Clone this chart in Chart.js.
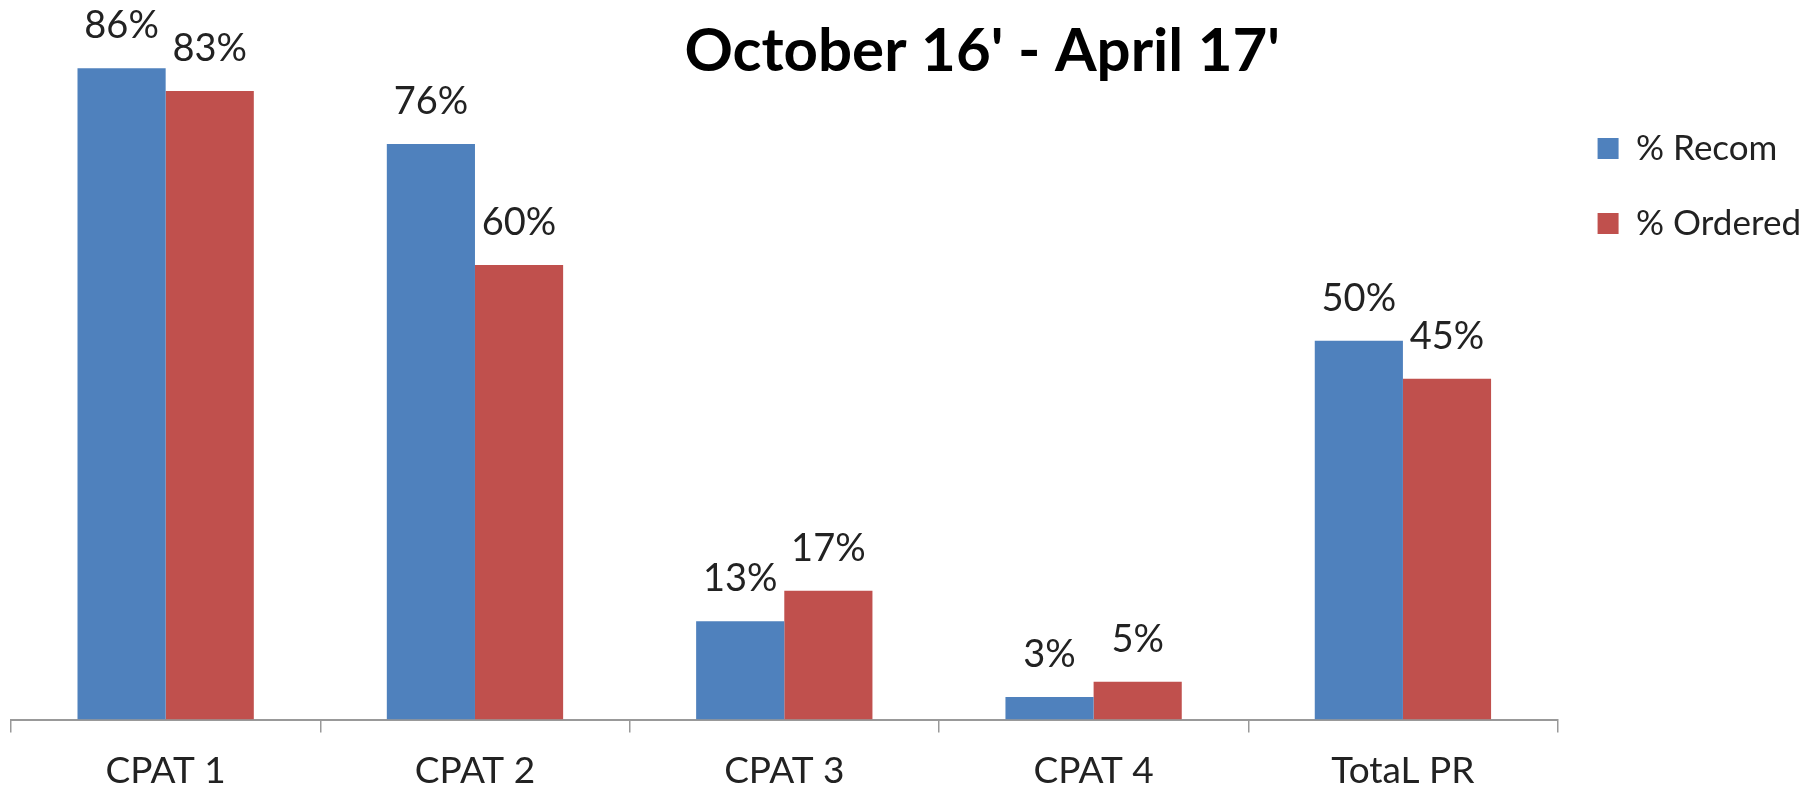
<!DOCTYPE html>
<html>
<head>
<meta charset="utf-8">
<script src="https://cdn.jsdelivr.net/npm/chart.js@4"></script>
<style>
  html, body { margin: 0; padding: 0; background: #fff; }
  #wrap { width: 1819px; height: 791px; }
</style>
</head>
<body>
<div id="wrap"><canvas id="canvas"></canvas></div>
<script>
var categories = ['CPAT 1', 'CPAT 2', 'CPAT 3', 'CPAT 4', 'TotaL PR']
var recom = [86, 76, 13, 3, 50]
var ordered = [83, 60, 17, 5, 45]
var seriesNames = ['% Recom', '% Ordered']
var titleText = "October 16' - April 17'"

var fontName = 'Lato, "Open Sans", sans-serif'

// value labels above each bar
var barLabels = {
  id: 'barLabels',
  afterDatasetsDraw: function(chart) {
    var ctx = chart.ctx
    ctx.save()
    ctx.font = '38px ' + fontName
    ctx.fillStyle = '#222'
    ctx.textAlign = 'center'
    ctx.textBaseline = 'alphabetic'
    chart.data.datasets.forEach(function(ds, i) {
      chart.getDatasetMeta(i).data.forEach(function(bar, j) {
        ctx.fillText(ds.data[j] + '%', bar.x, bar.y - 30)
      })
    })
    ctx.restore()
  }
}

// title sits inside the plot, like the original
var floatTitle = {
  id: 'floatTitle',
  afterDraw: function(chart) {
    var ctx = chart.ctx
    ctx.save()
    ctx.font = 'bold 60px ' + fontName
    ctx.fillStyle = '#000'
    ctx.textAlign = 'center'
    ctx.textBaseline = 'middle'
    ctx.fillText(titleText, chart.width * 0.54, 52)
    ctx.restore()
  }
}

let myChart = document.getElementById('canvas').getContext('2d')

let cpatChart = new Chart(myChart, {
  type: 'bar',
  data: {
    labels: categories,
    datasets: [{
      label: seriesNames[0],
      data: recom,
      backgroundColor: '#4F81BD'
    }, {
      label: seriesNames[1],
      data: ordered,
      backgroundColor: '#C0504D'
    }]
  },
  plugins: [barLabels, floatTitle],
  options: {
    responsive: true,
    maintainAspectRatio: false,
    animation: false,
    categoryPercentage: 0.57,
    barPercentage: 1,
    layout: { padding: { left: 11, right: 8, top: 0, bottom: -18 } },
    scales: {
      x: {
        grid: { drawOnChartArea: false, drawTicks: true, tickLength: 13, color: '#999', lineWidth: 1.5 },
        border: { color: '#999', width: 2 },
        ticks: { color: '#222', padding: 16, font: { family: fontName, size: 37 } }
      },
      y: {
        display: false,
        min: 0,
        max: 95
      }
    },
    plugins: {
      title: { display: false },
      tooltip: { enabled: false },
      legend: {
        position: 'right',
        align: 'start',
        title: { display: true, text: '', font: { size: 10 }, padding: { top: 79, bottom: 0 } },
        labels: {
          boxWidth: 21,
          boxHeight: 21,
          padding: 40,
          color: '#222',
          font: { family: fontName, size: 35 }
        }
      }
    }
  }
})
</script>
</body>
</html>
